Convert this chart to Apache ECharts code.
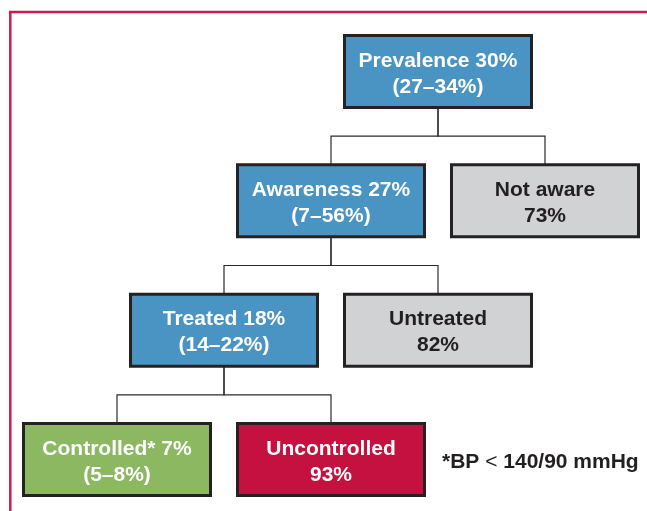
<!DOCTYPE html>
<html>
<head>
<meta charset="utf-8">
<script src="https://cdn.jsdelivr.net/npm/echarts@6/dist/echarts.min.js"></script>
<style>
html,body{margin:0;padding:0;background:#fff;}
#chart{width:647px;height:511px;}
</style>
</head>
<body>
<div id="chart"></div>
<script>
// ---- data ----
const nodeLabels   = ['Prevalence', 'Awareness', 'Not aware', 'Treated', 'Untreated', 'Controlled*', 'Uncontrolled'];
const nodePercents = [30, 27, 73, 18, 82, 7, 93];
const nodeRanges   = ['27–34%', '7–56%', null, '14–22%', null, '5–8%', null];
const nodeParents  = [-1, 0, 0, 1, 1, 3, 3];
const nodeLevels   = [0, 1, 1, 2, 2, 3, 3];
const nodeSlots    = [3, 2, 4, 1, 3, 0, 2];
const nodeKinds    = ['main', 'main', 'other', 'main', 'other', 'good', 'bad'];
const footnoteParts = ['*BP ', '<', ' 140/90 mmHg'];

// ---- styles ----
const kindFill = { main: '#4a94c3', other: '#d1d2d4', good: '#8cb862', bad: '#c4113f' };
const kindText = { main: '#ffffff', other: '#231f20', good: '#ffffff', bad: '#ffffff' };
const BOX_W = 187, BOX_H = 72;
const FONT = '"Liberation Sans", Arial, Helvetica, sans-serif';

function nodeText(i) {
  return nodeRanges[i]
    ? nodeLabels[i] + ' ' + nodePercents[i] + '%\n(' + nodeRanges[i] + ')'
    : nodeLabels[i] + '\n' + nodePercents[i] + '%';
}

const nodeData = nodeLabels.map((_, i) => [nodeSlots[i], nodeLevels[i], i]);
const edgeData = [];
nodeParents.forEach((p, i) => {
  if (p >= 0) edgeData.push([nodeSlots[p], nodeLevels[p], nodeSlots[i], nodeLevels[i]]);
});

const chart = echarts.init(document.getElementById('chart'), null, { renderer: 'canvas' });
chart.setOption({
  backgroundColor: '#ffffff',
  animation: false,
  grid: { left: 0, right: 0, top: 0, bottom: 0 },
  xAxis: { type: 'value', min: -1.0935, max: 4.9533, show: false },
  yAxis: { type: 'value', min: -0.553, max: 3.398, inverse: true, show: false },
  title: {
    left: 442, top: 452, padding: 0,
    text: '{b|' + footnoteParts[0] + '}{n|' + footnoteParts[1] + '}{b|' + footnoteParts[2] + '}',
    textStyle: {
      rich: {
        b: { fontFamily: FONT, fontWeight: 'bold', fontSize: 21, color: '#231f20' },
        n: { fontFamily: FONT, fontWeight: 'normal', fontSize: 21, color: '#231f20' }
      }
    }
  },
  graphic: [
    { type: 'line', shape: { x1: 9, y1: 12, x2: 647, y2: 12 }, style: { stroke: '#cf1a4c', lineWidth: 2.5 } },
    { type: 'line', shape: { x1: 10.3, y1: 12, x2: 10.3, y2: 511 }, style: { stroke: '#cf1a4c', lineWidth: 2.5 } }
  ],
  series: [
    {
      type: 'custom',
      coordinateSystem: 'cartesian2d',
      data: edgeData,
      silent: true,
      z: 1,
      renderItem: function (params, api) {
        const p = api.coord([api.value(0), api.value(1)]);
        const c = api.coord([api.value(2), api.value(3)]);
        const yTop = p[1] + BOX_H / 2;
        const yBot = c[1] - BOX_H / 2;
        const yMid = (yTop + yBot) / 2;
        const st = { stroke: '#2b2b2b', lineWidth: 1.2, fill: null };
        return {
          type: 'group',
          children: [
            { type: 'polyline', shape: { points: [[p[0], yTop], [p[0], yMid], [c[0], yMid], [c[0], yBot]] }, style: st }
          ]
        };
      }
    },
    {
      type: 'custom',
      coordinateSystem: 'cartesian2d',
      data: nodeData,
      silent: true,
      z: 2,
      renderItem: function (params, api) {
        const i = api.value(2);
        const c = api.coord([api.value(0), api.value(1)]);
        const k = nodeKinds[i];
        return {
          type: 'group',
          children: [
            {
              type: 'rect',
              shape: { x: c[0] - BOX_W / 2, y: c[1] - BOX_H / 2, width: BOX_W, height: BOX_H },
              style: { fill: kindFill[k], stroke: '#262223', lineWidth: 3 }
            },
            {
              type: 'text',
              x: c[0], y: c[1] + 2.5,
              style: {
                text: nodeText(i),
                fill: kindText[k],
                font: 'bold 21px ' + FONT,
                align: 'center',
                verticalAlign: 'middle',
                lineHeight: 26
              }
            }
          ]
        };
      }
    }
  ]
});
</script>
</body>
</html>
